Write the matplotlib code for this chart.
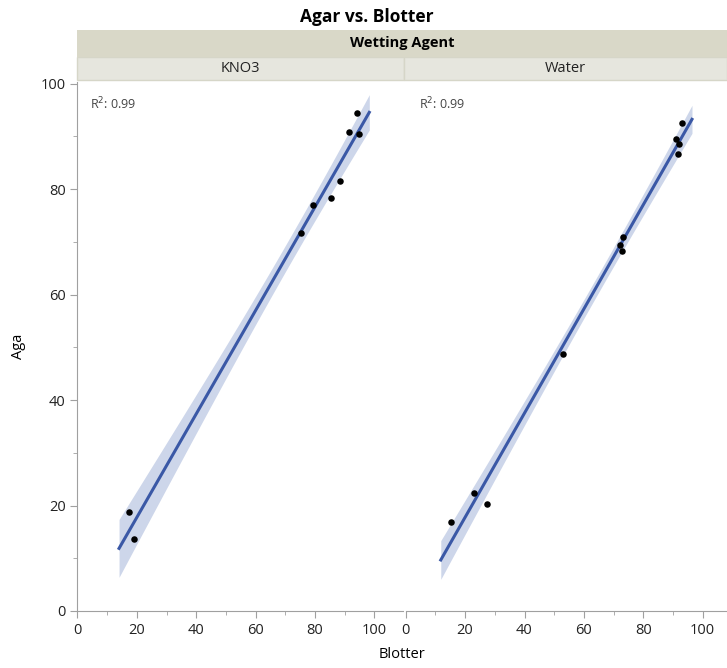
import numpy as np
import matplotlib
matplotlib.use("Agg")
from matplotlib import pyplot as plt
from matplotlib.patches import Rectangle

plt.rcParams['font.family'] = ['Open Sans', 'DejaVu Sans']

# data
agents = ['KNO3', 'Water']
kno3_blotter = [17.5, 18.9, 75.4, 79.4, 85.5, 88.3, 91.5, 94.3, 94.8]
kno3_agar = [18.8, 13.6, 71.6, 76.9, 78.4, 81.5, 90.8, 94.4, 90.5]
water_blotter = [15.3, 23.1, 27.3, 52.9, 72.2, 72.9, 73.1, 91.0, 91.7, 92.0, 92.9]
water_agar = [16.8, 22.4, 20.2, 48.7, 69.4, 68.3, 70.9, 89.5, 86.6, 88.5, 92.6]
series = [(kno3_blotter, kno3_agar), (water_blotter, water_agar)]

line_col = '#3a58a6'
band_col = '#cdd6ea'
spine_col = '#a0a0a0'

fig = plt.figure(figsize=(7.27, 6.68), dpi=100)

W, H = 727, 668
def fx(px):
    return px / W
def fy(py):
    return 1 - py / H

bot, top = 611, 82
panels = [(77.4, 403), (405.7, 727)]
headers = [(77, 404), (404, 727)]

for i, (name, (bx, ay)) in enumerate(zip(agents, series)):
    x0, x1 = panels[i]
    ax = fig.add_axes([fx(x0), fy(bot), fx(x1 - x0), fy(top) - fy(bot)])
    x = np.array(bx)
    y = np.array(ay)
    n = len(x)
    b, a = np.polyfit(x, y, 1)
    yhat = a + b * x
    resid = y - yhat
    s = np.sqrt(np.sum(resid ** 2) / (n - 2))
    r2 = 1 - np.sum(resid ** 2) / np.sum((y - y.mean()) ** 2)
    pad = 0.045 * (x.max() - x.min())
    xs = np.linspace(x.min() - pad, x.max() + pad, 100)
    se = s * np.sqrt(1 / n + (xs - x.mean()) ** 2 / np.sum((x - x.mean()) ** 2))
    t = 2.365 if n == 9 else 2.262
    ax.fill_between(xs, a + b * xs - t * se, a + b * xs + t * se, color=band_col, lw=0, zorder=1)
    ax.plot(xs, a + b * xs, color=line_col, lw=2.2, zorder=2)
    ax.scatter(x, y, s=22, color='black', zorder=3, lw=0)
    ax.text(0.04, 0.975, 'R$^2$: %.2f' % r2, transform=ax.transAxes, ha='left', va='top',
            fontsize=9, color='#444444')

    ax.set_xlim(0, (x1 - x0) / 2.97)
    ax.set_ylim(0, 100.3)
    ax.set_xticks([0, 20, 40, 60, 80, 100])
    ax.set_xticks([10, 30, 50, 70, 90], minor=True)
    ax.set_yticks([0, 20, 40, 60, 80, 100])
    ax.set_yticks([10, 30, 50, 70, 90], minor=True)
    for sp in ['top', 'right']:
        ax.spines[sp].set_visible(False)
    for sp in ['left', 'bottom']:
        ax.spines[sp].set_color(spine_col)
    ax.tick_params(which='both', color=spine_col, labelsize=10.5, labelcolor='#222222')
    ax.tick_params(which='major', length=5)
    ax.tick_params(which='minor', length=3)
    if i == 0:
        ax.set_ylabel('Aga', fontsize=10.5)
        ax.yaxis.set_label_coords(-(x0 - 26) / (x1 - x0), 0.5)
    else:
        ax.spines['left'].set_visible(False)
        ax.tick_params(axis='y', which='both', left=False, labelleft=False)

    # panel header
    h0, h1 = headers[i]
    fig.patches.append(Rectangle((fx(h0), fy(80)), fx(h1 - h0), fy(57) - fy(80),
                                 transform=fig.transFigure, facecolor='#e6e6de',
                                 edgecolor='#d6d6c8', lw=1.0))
    fig.text(fx((h0 + h1) / 2), fy(68.5), name, ha='center', va='center', fontsize=10.5,
             color='#222222')

fig.patches.append(Rectangle((fx(77), fy(57)), fx(727 - 77), fy(30) - fy(57),
                             transform=fig.transFigure, facecolor='#d9d8c8', lw=0))
fig.text(fx(402), fy(43), 'Wetting Agent', ha='center', va='center', fontsize=10.5,
         fontweight='bold')
fig.text(fx(367), fy(17), 'Agar vs. Blotter', ha='center', va='center', fontsize=12.5,
         fontweight='bold')
fig.text(fx(402), fy(655), 'Blotter', ha='center', va='center', fontsize=10.5)

fig.savefig('out.png', dpi=100)
